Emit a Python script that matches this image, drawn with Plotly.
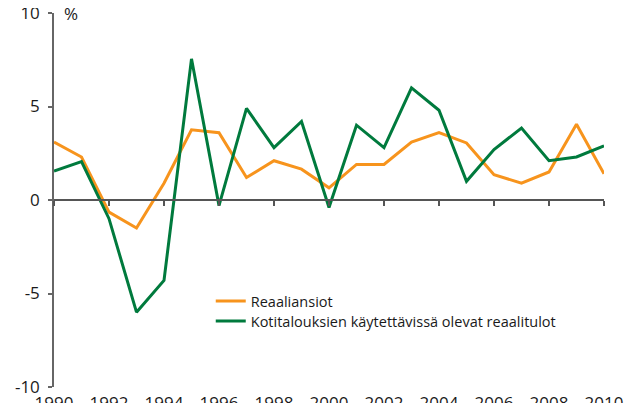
import plotly.graph_objects as go

years = list(range(1990, 2011))
reaaliansiot = [3.1, 2.3, -0.65, -1.5, 0.9, 3.75, 3.6, 1.2, 2.1, 1.65, 0.65,
                1.9, 1.9, 3.1, 3.6, 3.05, 1.35, 0.9, 1.5, 4.05, 1.4]
kotitaloudet = [1.55, 2.05, -1.0, -6.0, -4.3, 7.55, -0.3, 4.9, 2.8, 4.2, -0.4,
                4.0, 2.8, 6.0, 4.8, 1.0, 2.7, 3.85, 2.1, 2.3, 2.9]
x_ticks = list(range(1990, 2011, 2))
y_ticks = [-10, -5, 0, 5, 10]

FONT = "Open Sans"
ORANGE = "#F7941D"
GREEN = "#007A3D"
TEXT = "#1a1a1a"

fig = go.Figure()
fig.add_trace(go.Scatter(x=years, y=reaaliansiot, mode="lines", name="Reaaliansiot",
                         line=dict(color=ORANGE, width=3), legend="legend"))
fig.add_trace(go.Scatter(x=years, y=kotitaloudet, mode="lines",
                         name="Kotitalouksien käytettävissä olevat reaalitulot",
                         line=dict(color=GREEN, width=3), legend="legend2"))
# axis line at zero with ticks
fig.add_trace(go.Scatter(x=[years[0], years[-1]], y=[None, None], xaxis="x2",
                         showlegend=False, hoverinfo="skip"))

leg_common = dict(xanchor="left", yanchor="middle",
                  font=dict(family=FONT, size=14.5, color=TEXT),
                  bgcolor="rgba(0,0,0,0)", itemwidth=30)

fig.update_layout(
    width=637, height=403,
    margin=dict(l=46, r=41, t=5, b=24),
    paper_bgcolor="white", plot_bgcolor="white",
    font=dict(family=FONT, size=17, color=TEXT),
    showlegend=True,
    legend=dict(x=0.285, y=0.230, **leg_common),
    legend2=dict(x=0.285, y=0.176, **leg_common),
    xaxis=dict(range=[1990, 2010], tickvals=x_ticks, ticktext=[str(v) for v in x_ticks],
               showgrid=False, zeroline=False, showline=False, ticks="",
               ticklabelstandoff=4, tickfont=dict(size=17), automargin=False,
               ticklabeloverflow="allow"),
    xaxis2=dict(range=[1990, 2010], overlaying="x", anchor="free", position=0.5,
                side="bottom", tickvals=x_ticks, showticklabels=False,
                showline=True, linecolor="#555", linewidth=1.5,
                ticks="outside", ticklen=5, tickcolor="#555", tickwidth=1.5,
                showgrid=False, zeroline=False, automargin=False),
    yaxis=dict(range=[-10, 10], tickvals=y_ticks, ticktext=[str(v) for v in y_ticks],
               showgrid=False, zeroline=False, showline=True, linecolor="#666",
               linewidth=1.5, ticks="outside", ticklen=4, tickcolor="#666",
               tickwidth=1.5, tickfont=dict(size=17), ticklabelstandoff=5,
               automargin=False, ticklabeloverflow="allow"),
    annotations=[dict(text="%", x=0.014, y=1.0, xref="paper", yref="paper",
                      xanchor="left", yanchor="middle", showarrow=False,
                      font=dict(family=FONT, size=17, color=TEXT))],
)

fig.write_html("out.html")
